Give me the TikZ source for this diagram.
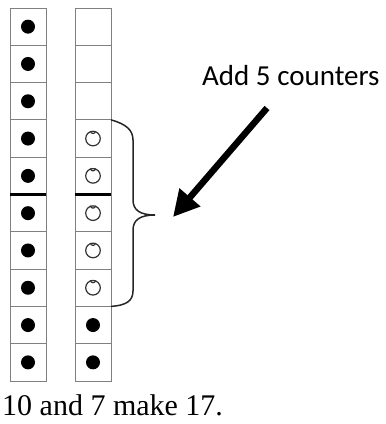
\documentclass[tikz,border=0pt]{standalone}
\usepackage{fontspec}
\setmainfont{Liberation Serif}
\newfontfamily\calfont{Carlito}
\usetikzlibrary{arrows.meta,calc}
\begin{document}
\begin{tikzpicture}[x=1pt,y=-1pt,
  cellbox/.style={draw=black!50,line width=0.9pt,minimum width=36pt,minimum height=37.3pt,inner sep=0pt,outer sep=0pt},
  fulldot/.style={fill=black},
  ringdot/.style={draw=black!80,line width=1.2pt},
  divider/.style={line width=2.6pt,black},
  bracestyle/.style={line width=1.5pt,black!85},
  bigarrow/.style={line width=6.5pt,-{Triangle[length=26pt,width=26pt]}}]
\useasboundingbox (0,0) rectangle (386,424);
\foreach \i in {1,...,10}{
  \node[cellbox] (L\i) at (28,{8+37.3*(\i-0.5)}) {};
  \node[cellbox] (R\i) at (93,{8+37.3*(\i-0.5)}) {};
  \fill[fulldot] (L\i.center) circle (7pt);
}
\foreach \i in {4,...,8}{
  \draw[ringdot] (R\i.center) circle (7.3pt);
  \draw[ringdot] ($(R\i.center)+(-2.5,-7.5)$) arc[start angle=180,end angle=0,radius=2.5];
}
\foreach \i in {9,10}{
  \fill[fulldot] (R\i.center) circle (7pt);
}
\draw[divider] (L5.south west) -- (L5.south east);
\draw[divider] (R5.south west) -- (R5.south east);
% brace
\coordinate (btop) at (R4.north east);
\coordinate (bbot) at (R8.south east);
\coordinate (btip) at (155,215);
\draw[bracestyle] (btop) .. controls (126,124) and (133,130) .. (133,140)
  -- (133,200) .. controls (133,210) and (140,215) .. (btip)
  .. controls (140,215) and (133,220) .. (133,230)
  -- (133,291) .. controls (133,301) and (126,305.5) .. (bbot);
\node[font=\calfont\fontsize{29}{34}\selectfont,anchor=base west,inner sep=0pt] (lbl) at (202,85) {Add 5 counters};
\coordinate (astart) at (267,108);
\coordinate (aend) at (173,217);
\draw[bigarrow] (astart) -- (aend);
\node[font=\fontsize{30}{36}\selectfont,anchor=base west,inner sep=0pt] (cap) at (2,415) {10 and 7 make 17.};
\end{tikzpicture}
\end{document}
